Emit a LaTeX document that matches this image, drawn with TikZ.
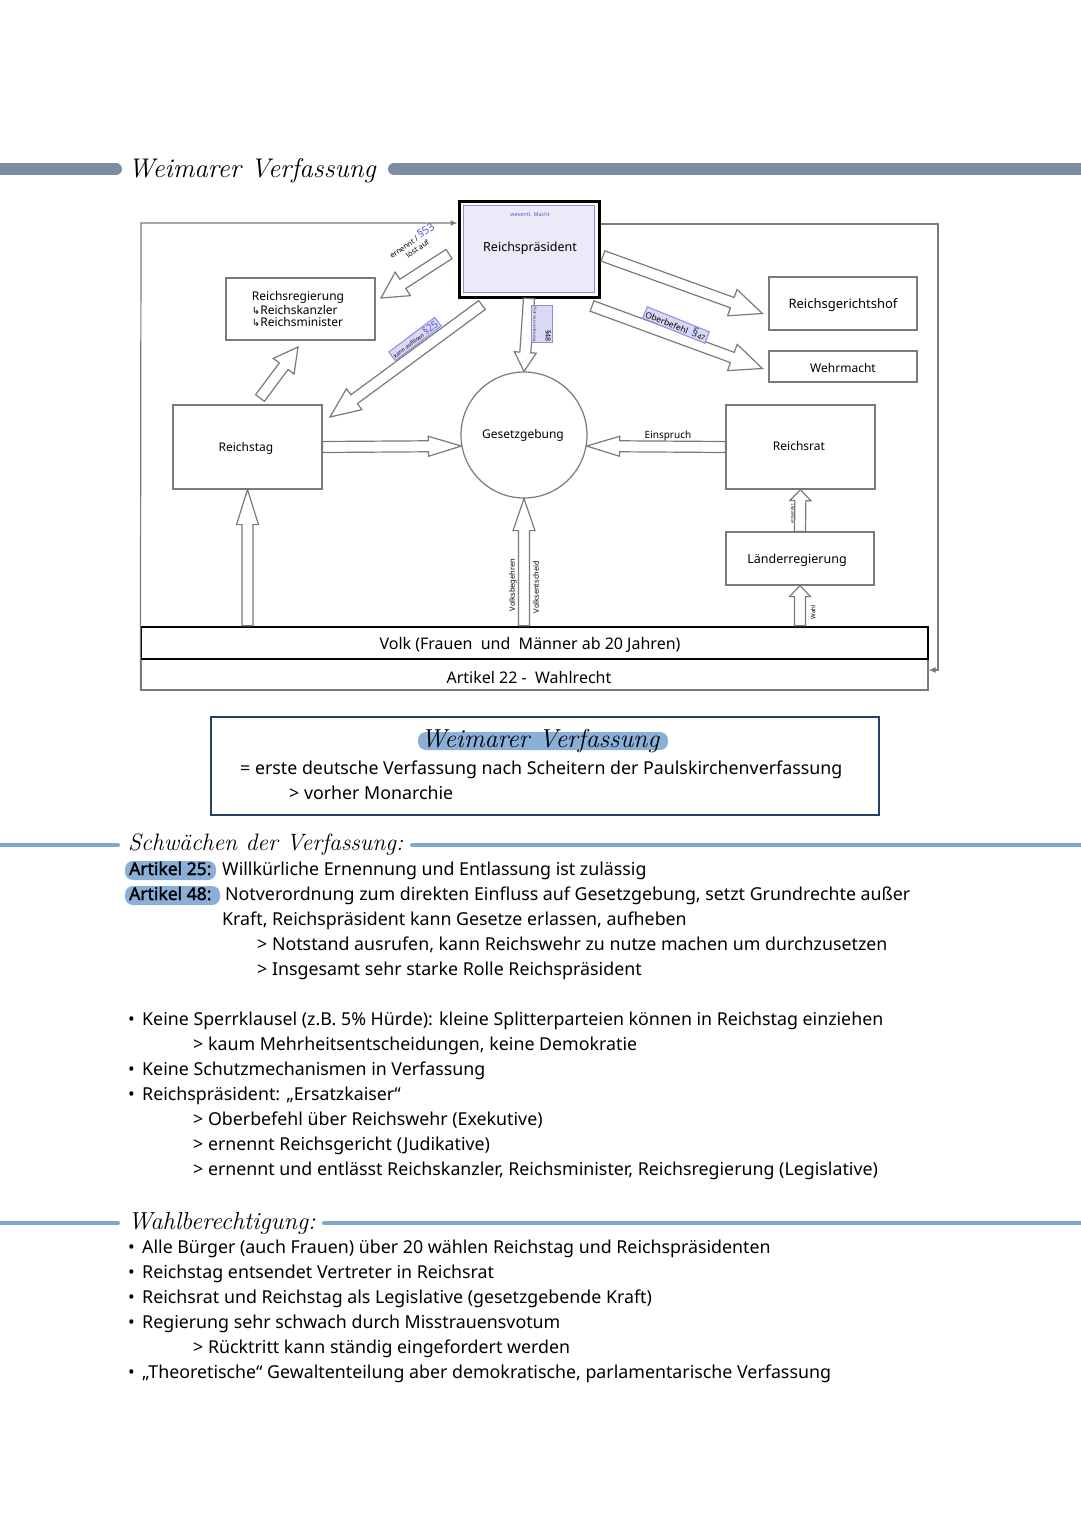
\documentclass[tikz,border=0pt]{standalone}
\usepackage{fontspec}
\newfontfamily\bodyf{Noto Sans}
\newfontfamily\bodybf[FakeBold=1.6]{Noto Sans}
\newfontfamily\symf{DejaVu Sans}
\usetikzlibrary{calc,arrows.meta}
\definecolor{hdr}{HTML}{7B8DA2}
\definecolor{secl}{HTML}{7EA7D0}
\definecolor{hilite}{HTML}{8AB0D8}
\definecolor{navy}{HTML}{27406B}
\definecolor{lav}{HTML}{EAEAF8}
\definecolor{lavb}{HTML}{8C8CE0}
\definecolor{labf}{HTML}{D9D9F4}
\definecolor{parag}{HTML}{5B5BD6}
\definecolor{framec}{HTML}{7A7A7A}
\newcommand\barrow[5]{%
  \coordinate (bP) at ($(#2)!#5!(#1)$);
  \draw[barr] ($(#1)!#3!90:(#2)$) -- ($(bP)!#3!-90:(#1)$) -- ($(bP)!#4!-90:(#1)$) -- (#2)
    -- ($(bP)!#4!90:(#1)$) -- ($(bP)!#3!90:(#1)$) -- ($(#1)!#3!-90:(#2)$) -- cycle;}
\begin{document}
\begin{tikzpicture}[x=1pt,y=-1pt,
  barr/.style={draw=framec,line width=1.2pt,fill=white,line join=miter},
  box/.style={draw=framec,line width=1.2pt,inner sep=0pt,fill=white},
  dlab/.style={font=\bodyf\fontsize{12}{14}\selectfont,inner sep=0pt},
  head/.style={font=\itshape\fontsize{25}{28}\selectfont,inner sep=0pt,anchor=base west},
  txt/.style={font=\bodyf\fontsize{17.8}{19}\selectfont,inner sep=0pt,anchor=base west},
  btxt/.style={font=\bodybf\fontsize{17.5}{19}\selectfont,inner sep=0pt,anchor=base west},
  lbox/.style={draw=lavb,fill=labf,line width=1pt,inner sep=1.5pt}]
\useasboundingbox (0,0) rectangle (1080,1527);
\fill[white] (0,0) rectangle (1080,1527);
% header
\draw[hdr,line width=12pt,line cap=round] (-10,169) -- (116,169);
\node[head,font=\itshape\fontsize{27}{30}\selectfont] (t1) at (128,177) {Weimarer Verfassung};
\draw[hdr,line width=12pt,line cap=round] (394,169) -- (1090,169);
% diagram boxes
\node[box,minimum width=787,minimum height=31] (art) at (534.5,674.5) {};
\node[dlab,font=\bodyf\fontsize{16}{18}\selectfont] (artt) at (529,677) {Artikel 22 -\ \ Wahlrecht};
\node[box,draw=black,line width=2.5pt,minimum width=787,minimum height=32] (volk) at (534.5,643) {};
\node[dlab,font=\bodyf\fontsize{16}{18}\selectfont] (volkt) at (530,645) {Volk (Frauen\ \ und\ \ Männer ab 20 Jahren)};
\coordinate (ftl) at (141,223);
\coordinate (ftr) at (938,224);
\coordinate (fbr) at (938,670);
\node[box,draw=black,line width=3pt,minimum width=140,minimum height=96] (rp) at (529,249) {};
\draw[framec,line width=1.2pt,-{Latex[length=7pt,width=6pt]}] (art.south west) -- (ftl) -- (ftl -| rp.west);
\draw[framec,line width=1.2pt,-{Latex[length=7pt,width=6pt]}] (ftr -| rp.east) -- (ftr) -- (fbr) -- (fbr -| art.east);
\draw[lavb,fill=lav,line width=1pt] ($(rp.north west)+(6,6)$) rectangle ($(rp.south east)+(-6,-6)$);
\node[dlab,font=\bodyf\fontsize{12.5}{14}\selectfont] (rpt) at (530,248) {Reichspräsident};
\node[dlab,font=\bodyf\fontsize{5.5}{6}\selectfont,text=parag] (rpm) at (530,214) {wesentl. Macht};
\node[box,minimum width=149,minimum height=62] (rr) at (300.5,309) {};
\node[dlab,align=left,font=\bodyf\fontsize{12}{12}\selectfont] (rrt) at (298,309) {Reichsregierung\\[2pt]{\symf\fontsize{10}{10}\selectfont ↳}Reichskanzler\\[0pt]{\symf\fontsize{10}{10}\selectfont ↳}Reichsminister};
\node[box,minimum width=148,minimum height=53] (rg) at (843,303.5) {};
\node[dlab,font=\bodyf\fontsize{13}{14}\selectfont] (rgt) at (843,305) {Reichsgerichtshof};
\node[box,minimum width=148,minimum height=31] (wm) at (843,366.5) {};
\node[dlab] (wmt) at (843,368) {Wehrmacht};
\node[box,minimum width=149,minimum height=84] (rt) at (247.5,447) {};
\node[dlab] (rtt) at (246,448) {Reichstag};
\node[box,circle,minimum size=126] (gg) at (524,435) {};
\node[dlab] (ggt) at (523,435) {Gesetzgebung};
\node[box,minimum width=149,minimum height=84] (rs) at (800.5,447) {};
\node[dlab] (rst) at (799,446) {Reichsrat};
\node[box,minimum width=148,minimum height=53] (lr) at (800,558.5) {};
\node[dlab,font=\bodyf\fontsize{12.5}{14}\selectfont] (lrt) at (797,560) {Länderregierung};
% block arrows
\coordinate (a1s) at (449,254); \coordinate (a1e) at (381,298);
\barrow{a1s}{a1e}{5.5pt}{14pt}{26pt}
\coordinate (a2s) at (482,305); \coordinate (a2e) at (330,417);
\barrow{a2s}{a2e}{5.5pt}{13pt}{30pt}
\coordinate (a3s) at (260,398); \coordinate (a3e) at (298,347);
\barrow{a3s}{a3e}{5.5pt}{13pt}{24pt}
\barrow{rp.south}{gg.north}{5.5pt}{11pt}{19pt}
\coordinate (a5s) at (603,256);
\coordinate (a5e) at ($(rg.west)+(-6,10)$);
\barrow{a5s}{a5e}{5.5pt}{14pt}{32pt}
\coordinate (a6s) at (592,306);
\coordinate (a6e) at ($(wm.west)+(-6,2)$);
\barrow{a6s}{a6e}{5.5pt}{14pt}{32pt}
\barrow{rt.east}{gg.190}{5.5pt}{10pt}{33pt}
\barrow{rs.west}{gg.-10}{5.5pt}{10pt}{33pt}
\coordinate (a9s) at (rt.south |- volk.north);
\barrow{a9s}{rt.south}{5.5pt}{11pt}{35pt}
\coordinate (a10s) at (gg.south |- volk.north);
\barrow{a10s}{gg.south}{5.5pt}{11pt}{32pt}
\coordinate (a11s) at (lr.south |- volk.north);
\barrow{a11s}{lr.south}{5.5pt}{10.5pt}{11pt}
\barrow{lr.north}{rs.south}{5.5pt}{10.5pt}{11pt}
% arrow labels
\node[dlab,rotate=35,align=center,font=\bodyf\fontsize{7.5}{8}\selectfont] (l53) at (414,244) {ernennt / {\color{parag}\fontsize{11}{11}\selectfont §53}\\[1pt]löst auf};
\node[lbox,rotate=37] (l25) at (415,339) {\bodyf\fontsize{5.5}{6}\selectfont kann auflösen {\color{parag}\fontsize{10}{10}\selectfont §25}};
\node[lbox,rotate=-22] (l47) at (676,325) {\bodyf\fontsize{8.5}{9}\selectfont Oberbefehl\ \ {\color{navy}\fontsize{12}{12}\selectfont §}{\fontsize{7}{7}\selectfont 47}};
\node[lbox,rotate=-90,align=right,inner sep=1pt] (l48) at (542,324) {\bodyf\fontsize{7}{7}\selectfont\bfseries §48\\{\mdseries\fontsize{4}{4.5}\selectfont Notverordnung}};
\node[dlab,font=\bodyf\fontsize{10}{11}\selectfont] (lein) at (668,436) {Einspruch};
\node[dlab,rotate=90,font=\bodyf\fontsize{7.5}{8}\selectfont] (lvb) at (513,585) {Volksbegehren};
\node[dlab,rotate=90,font=\bodyf\fontsize{7.5}{8}\selectfont] (lve) at (536,587) {Volksentscheid};
\node[dlab,rotate=90,font=\bodyf\fontsize{6}{7}\selectfont] (lwa) at (813,612) {Wahl};
\node[dlab,rotate=90,font=\bodyf\fontsize{4}{5}\selectfont] (len) at (792,514) {entsendet};
% definition box
\node[draw=navy,line width=2.2pt,minimum width=668,minimum height=98,inner sep=0pt] (def) at (545,766) {};
\fill[hilite,rounded corners=8pt] (418,732) rectangle (668,750);
\node[head,anchor=base,font=\itshape\fontsize{26}{28}\selectfont] (deft) at (540,747) {Weimarer Verfassung};
\node[txt] (d1) at (240,774) {= erste deutsche Verfassung nach Scheitern der Paulskirchenverfassung};
\node[txt] (d2) at (289,799) {> vorher Monarchie};
% Schwaechen
\draw[secl,line width=4pt,line cap=round] (-5,845) -- (118,845);
\node[head,font=\itshape\fontsize{23.7}{26}\selectfont] (h2) at (128,850) {Schwächen der Verfassung:};
\draw[secl,line width=4pt,line cap=round] (412,845) -- (1085,845);
\fill[hilite,rounded corners=8pt] (125,861) rectangle (216,880);
\node[btxt] (a25) at (129,875) {Artikel 25:};
\node[txt] (s1) at (222,875) {Willkürliche Ernennung und Entlassung ist zulässig};
\fill[hilite,rounded corners=8pt] (125,886) rectangle (220,905);
\node[btxt] (a48) at (129,900) {Artikel 48:};
\node[txt] (s2) at (225,900) {Notverordnung zum direkten Einfluss auf Gesetzgebung, setzt Grundrechte außer};
\node[txt] (s3) at (222,925) {Kraft, Reichspräsident kann Gesetze erlassen, aufheben};
\node[txt] (s4) at (257,950) {> Notstand ausrufen, kann Reichswehr zu nutze machen um durchzusetzen};
\node[txt] (s5) at (257,975) {> Insgesamt sehr starke Rolle Reichspräsident};
\node[txt] (b1) at (128,1025) {•};
\node[txt] (s6) at (142,1025) {Keine Sperrklausel (z.B. 5\% Hürde): kleine Splitterparteien können in Reichstag einziehen};
\node[txt] (s7) at (193,1050) {> kaum Mehrheitsentscheidungen, keine Demokratie};
\node[txt] (b2) at (128,1075) {•};
\node[txt] (s8) at (142,1075) {Keine Schutzmechanismen in Verfassung};
\node[txt] (b3) at (128,1100) {•};
\node[txt] (s9) at (142,1100) {Reichspräsident: „Ersatzkaiser“};
\node[txt] (s10) at (193,1125) {> Oberbefehl über Reichswehr (Exekutive)};
\node[txt] (s11) at (193,1150) {> ernennt Reichsgericht (Judikative)};
\node[txt] (s12) at (193,1175) {> ernennt und entlässt Reichskanzler, Reichsminister, Reichsregierung (Legislative)};
% Wahlberechtigung
\draw[secl,line width=4pt,line cap=round] (-5,1223) -- (118,1223);
\node[head,font=\itshape\fontsize{24.6}{27}\selectfont] (h3) at (128,1229) {Wahlberechtigung:};
\draw[secl,line width=4pt,line cap=round] (324,1223) -- (1085,1223);
\node[txt] (b4) at (128,1253) {•};
\node[txt] (w1) at (142,1253) {Alle Bürger (auch Frauen) über 20 wählen Reichstag und Reichspräsidenten};
\node[txt] (b5) at (128,1278) {•};
\node[txt] (w2) at (142,1278) {Reichstag entsendet Vertreter in Reichsrat};
\node[txt] (b6) at (128,1303) {•};
\node[txt] (w3) at (142,1303) {Reichsrat und Reichstag als Legislative (gesetzgebende Kraft)};
\node[txt] (b7) at (128,1328) {•};
\node[txt] (w4) at (142,1328) {Regierung sehr schwach durch Misstrauensvotum};
\node[txt] (w5) at (193,1353) {> Rücktritt kann ständig eingefordert werden};
\node[txt] (b8) at (128,1378) {•};
\node[txt] (w6) at (142,1378) {„Theoretische“ Gewaltenteilung aber demokratische, parlamentarische Verfassung};
\end{tikzpicture}
\end{document}
